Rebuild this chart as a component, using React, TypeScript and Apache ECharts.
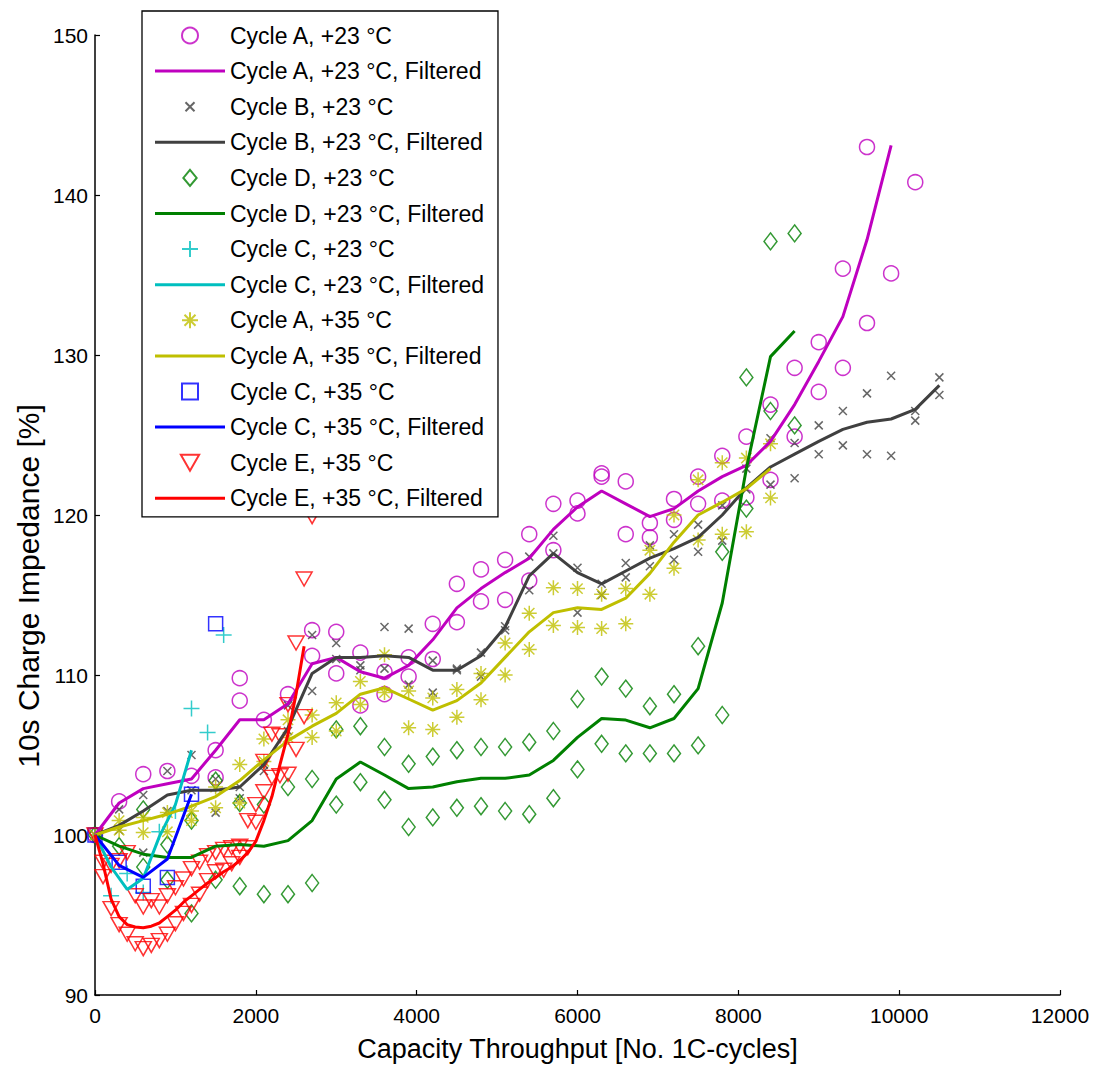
import React, { useEffect, useRef } from "react";
import * as echarts from "echarts";

// ---------- data ----------
const cyc300To9900 = [0,300,600,900,1200,1500,1800,2100,2400,2700,3000,3300,3600,3900,4200,4500,4800,5100,5400,5700,6000,6300,6600,6900,7200,7500,7800,8100,8400,8700,9000,9300,9600,9900];
const cyc300To10500 = [0,300,600,900,1200,1500,1800,2100,2400,2700,3000,3300,3600,3900,4200,4500,4800,5100,5400,5700,6000,6300,6600,6900,7200,7500,7800,8100,8400,8700,9000,9300,9600,9900,10200,10500];
const cyc300To8700 = [0,300,600,900,1200,1500,1800,2100,2400,2700,3000,3300,3600,3900,4200,4500,4800,5100,5400,5700,6000,6300,6600,6900,7200,7500,7800,8100,8400,8700];
const cyc300To8400 = [0,300,600,900,1200,1500,1800,2100,2400,2700,3000,3300,3600,3900,4200,4500,4800,5100,5400,5700,6000,6300,6600,6900,7200,7500,7800,8100,8400];
const cycC23Line = [0,200,400,600,800,1000,1200];
const cycC35Line = [0,300,600,900,1200];
const cycE35Line = [0,100,200,300,400,500,600,700,800,900,1000,1100,1200,1300,1400,1500,1600,1700,1800,1900,2000,2100,2200,2300,2400,2500,2600];

const cycleA23Points = [[0,100],[300,102.1],[600,103.8],[900,104.0],[1200,103.7],[1500,105.3],[1500,103.6],[1800,109.8],[1800,108.4],[2100,107.2],[2400,108.8],[2700,112.8],[2700,111.2],[3000,112.7],[3000,110.1],[3300,111.4],[3300,108.1],[3600,110.2],[3600,108.8],[3900,111.1],[3900,109.9],[4200,113.2],[4200,111.0],[4500,115.7],[4500,113.3],[4800,116.6],[4800,114.6],[5100,117.2],[5100,114.7],[5400,118.8],[5400,115.9],[5700,120.7],[5700,117.8],[6000,120.9],[6000,120.1],[6300,122.6],[6300,122.4],[6600,122.1],[6600,118.8],[6900,119.5],[6900,118.6],[7200,121.0],[7200,119.7],[7500,122.4],[7500,120.7],[7800,123.7],[7800,120.9],[8100,124.9],[8100,121.1],[8400,126.9],[8400,122.2],[8700,129.2],[8700,124.9],[9000,130.8],[9000,127.7],[9300,135.4],[9300,129.2],[9600,143.0],[9600,132.0],[9900,135.1],[10200,140.8]];
const cycleA23Filtered = [100,102.0,102.9,103.2,103.5,105.3,107.2,107.2,108.2,110.7,111.1,110.2,109.8,110.6,112.2,114.2,115.4,116.4,117.3,119.1,120.5,121.5,120.7,119.9,120.4,121.5,122.4,123.1,124.6,126.9,129.6,132.4,137.2,143.1];

const cycleB23Points = [[0,100],[300,101.6],[300,100.3],[600,102.5],[600,98.9],[900,104.0],[900,101.5],[1200,105.0],[1200,102.8],[1500,103.5],[1500,101.4],[1800,103.0],[1800,102.3],[2100,104.4],[2100,104.0],[2400,108.1],[2400,106.5],[2700,112.5],[2700,109.0],[3000,112.0],[3000,111.0],[3300,110.6],[3300,110.3],[3600,113.0],[3600,110.4],[3900,112.9],[3900,109.4],[4200,110.9],[4200,108.9],[4500,110.4],[4500,110.3],[4800,111.4],[4800,109.9],[5100,113.05],[5100,112.8],[5400,117.4],[5400,115.3],[5700,118.7],[5700,117.6],[6000,116.7],[6000,113.9],[6300,115.7],[6300,115.0],[6600,117.0],[6600,116.1],[6900,118.1],[6900,116.8],[7200,118.8],[7200,117.2],[7500,119.4],[7500,117.7],[7800,120.6],[7800,118.4],[8100,122.9],[8100,121.6],[8400,124.8],[8400,121.9],[8700,124.5],[8700,122.3],[9000,125.6],[9000,123.8],[9300,126.5],[9300,124.35],[9600,127.6],[9600,123.8],[9900,128.7],[9900,123.7],[10200,126.5],[10200,125.9],[10500,128.6],[10500,127.5]];
const cycleB23Filtered = [100,100.6,101.5,102.5,102.8,102.8,103.0,104.4,106.7,110.1,111.1,111.1,111.2,111.1,110.3,110.3,111.2,113.0,116.2,117.6,116.4,115.7,116.5,117.3,117.9,118.6,120.0,121.7,123.0,123.8,124.6,125.35,125.8,126.0,126.6,128.1];

const cycleD23Points = [[0,100],[300,99.3],[600,98.0],[600,101.6],[900,99.4],[900,97.2],[1200,100.9],[1200,95.1],[1500,103.4],[1500,97.2],[1800,102.0],[1800,96.8],[2100,101.9],[2100,96.3],[2400,103.0],[2400,96.3],[2700,103.5],[2700,97.0],[3000,106.6],[3000,101.9],[3300,106.8],[3300,103.3],[3600,105.5],[3600,102.2],[3900,104.45],[3900,100.5],[4200,104.9],[4200,101.1],[4500,105.3],[4500,101.7],[4800,105.5],[4800,101.8],[5100,105.5],[5100,101.5],[5400,105.8],[5400,101.3],[5700,106.5],[5700,102.3],[6000,108.5],[6000,104.1],[6300,109.9],[6300,105.7],[6600,109.15],[6600,105.1],[6900,108.05],[6900,105.1],[7200,108.8],[7200,105.1],[7500,111.8],[7500,105.6],[7800,117.7],[7800,107.5],[8100,128.6],[8100,120.4],[8400,137.1],[8400,126.5],[8700,137.6],[8700,125.6]];
const cycleD23Filtered = [100,99.3,98.8,98.6,98.6,99.3,99.4,99.3,99.65,100.9,103.5,104.56,103.75,102.9,103.0,103.33,103.54,103.54,103.75,104.66,106.1,107.28,107.18,106.7,107.28,109.15,114.5,122.9,129.9,131.5];

const cycleC23Points = [[0,100],[200,96.2],[400,97.6],[600,96.4],[800,100.2],[1000,101.5],[1200,107.9],[1400,106.4],[1600,112.5]];
const cycleC23Filtered = [100,98.0,96.6,97.3,99.9,101.9,105.3];

const cycleA35Points = [[0,100],[300,100.9],[300,100.3],[600,101.1],[600,100.15],[900,101.4],[900,100.2],[1200,100.9],[1200,101.5],[1500,103.0],[1500,101.7],[1800,104.4],[1800,102.0],[2100,106.0],[2100,104.6],[2400,107.2],[2400,106.1],[2700,107.5],[2700,106.1],[3000,108.26],[3000,106.5],[3300,109.6],[3300,108.15],[3600,111.27],[3600,108.9],[3900,109.0],[3900,106.7],[4200,108.57],[4200,106.6],[4500,109.1],[4500,107.36],[4800,110.1],[4800,108.46],[5100,112.0],[5100,110.0],[5400,113.86],[5400,111.6],[5700,115.46],[5700,113.1],[6000,115.4],[6000,112.97],[6300,115.05],[6300,112.9],[6600,115.4],[6600,113.2],[6900,117.8],[6900,115.05],[7200,120.0],[7200,116.67],[7500,122.2],[7500,118.43],[7800,123.27],[7800,118.8],[8100,123.56],[8100,118.95],[8400,124.45],[8400,121.07]];
const cycleA35Filtered = [100,100.5,100.9,101.3,101.8,102.4,103.4,104.7,105.9,106.8,107.6,108.8,109.2,108.5,107.8,108.4,109.5,111.1,112.7,113.9,114.2,114.1,114.8,116.35,118.3,120.0,120.8,121.65,122.9];

const cycleC35Points = [[0,100],[300,98.3],[600,96.8],[900,97.35],[1200,102.55],[1500,113.2]];
const cycleC35Filtered = [100,98.1,97.35,98.5,102.55];

const cycleE35Points = [[0,100],[100,97.4],[200,95.4],[300,94.4],[400,93.8],[500,93.2],[600,92.9],[700,93.1],[800,93.4],[900,93.8],[1000,94.45],[1100,95.1],[1200,95.6],[1300,96.3],[1400,97.15],[1500,97.7],[1600,97.8],[1700,98.2],[1800,98.6],[1900,99.2],[2000,100.8],[2100,102.7],[2200,103.6],[2300,103.7],[2400,103.8],[2500,105.35],[2600,107.4],
  [100,98.3],[200,98.1],[300,98.4],[400,98.9],[500,96.2],[600,95.5],[700,95.9],[800,95.5],[900,96.2],[1000,96.7],[1100,97.25],[1200,97.9],[1300,98.3],[1400,98.7],[1500,98.9],[1600,99.1],[1700,99.2],[1800,99.3],[1900,100.9],[2000,101.9],[2100,104.6],[2200,106.3],[2300,106.2],[2400,108.15],[2500,112.0],[2600,116.0],[2700,119.9]];
const cycleE35Filtered = [100,98.2,96.0,94.9,94.4,94.25,94.2,94.3,94.5,94.9,95.3,95.8,96.2,96.6,97.0,97.35,97.7,98.0,98.4,98.9,99.6,100.9,102.4,104.4,106.3,108.8,111.8];

const xAxisTitle = "Capacity Throughput [No. 1C-cycles]";
const yAxisTitle = "10s Charge Impedance [%]";

// ---------- styles ----------
const C_MAG = "#BF00BF";
const C_GRAY = "#404040";
const C_GREEN = "#008000";
const C_CYAN = "#00BFBF";
const C_OLIVE = "#BFBF00";
const C_BLUE = "#0000FF";
const C_RED = "#FF0000";
const FONT = "Liberation Sans, Arial, Helvetica, sans-serif";

const SYM_X = "path://M0,0L10,10M10,0L0,10";
const SYM_PLUS = "path://M8,0L8,16M0,8L16,8";
const SYM_STAR = "path://M8,0L8,16M0,8L16,8M2.5,2.5L13.5,13.5M13.5,2.5L2.5,13.5";
const SYM_DIAMOND = "path://M7.5,0L15,9L7.5,18L0,9Z";
const SYM_TRI_DOWN = "path://M0,0L16,0L8,14Z";
const LEG_X = "path://M0,0M16,16M3.5,3.5L12.5,12.5M12.5,3.5L3.5,12.5";
const LEG_SQUARE = "path://M0,0L14,0L14,14L0,14Z";
const LEG_CIRCLE = "circle";
const LEG_LINE = "path://M0,0L70,0L70,3L0,3Z";

const zip = (xs: number[], ys: number[]) => xs.map((x, i) => [x, ys[i]]);

function scatter(name: string, data: number[][], symbol: string, size: any, color: string) {
  return {
    name,
    type: "scatter",
    data,
    symbol,
    symbolSize: size,
    itemStyle: { color: "rgba(0,0,0,0)", borderColor: color, borderWidth: 1.5 },
    emphasis: { disabled: true },
  };
}
function line(name: string, xs: number[], ys: number[], color: string) {
  return {
    name,
    type: "line",
    data: zip(xs, ys),
    symbol: "none",
    showSymbol: false,
    lineStyle: { color, width: 3 },
    itemStyle: { color },
    emphasis: { disabled: true },
  };
}

export default function App() {
  const ref = useRef<HTMLDivElement>(null);
  useEffect(() => {
    if (!ref.current) return;
    const chart = echarts.init(ref.current, undefined, { renderer: "svg" });
    const series = [
      scatter("Cycle A, +23 \u00B0C", cycleA23Points, "circle", 15, C_MAG),
      line("Cycle A, +23 \u00B0C, Filtered", cyc300To9900, cycleA23Filtered, C_MAG),
      scatter("Cycle B, +23 \u00B0C", cycleB23Points, SYM_X, 8, C_GRAY),
      line("Cycle B, +23 \u00B0C, Filtered", cyc300To10500, cycleB23Filtered, C_GRAY),
      scatter("Cycle D, +23 \u00B0C", cycleD23Points, SYM_DIAMOND, [13, 17], C_GREEN),
      line("Cycle D, +23 \u00B0C, Filtered", cyc300To8700, cycleD23Filtered, C_GREEN),
      scatter("Cycle C, +23 \u00B0C", cycleC23Points, SYM_PLUS, 16, C_CYAN),
      line("Cycle C, +23 \u00B0C, Filtered", cycC23Line, cycleC23Filtered, C_CYAN),
      scatter("Cycle A, +35 \u00B0C", cycleA35Points, SYM_STAR, 15, C_OLIVE),
      line("Cycle A, +35 \u00B0C, Filtered", cyc300To8400, cycleA35Filtered, C_OLIVE),
      scatter("Cycle C, +35 \u00B0C", cycleC35Points, "rect", 14, C_BLUE),
      line("Cycle C, +35 \u00B0C, Filtered", cycC35Line, cycleC35Filtered, C_BLUE),
      scatter("Cycle E, +35 \u00B0C", cycleE35Points, SYM_TRI_DOWN, [16, 14], C_RED),
      line("Cycle E, +35 \u00B0C, Filtered", cycE35Line, cycleE35Filtered, C_RED),
    ];
    const legendIcons: Record<number, string> = {
      0: LEG_CIRCLE, 2: LEG_X, 4: SYM_DIAMOND, 6: SYM_PLUS, 8: SYM_STAR, 10: LEG_SQUARE, 12: SYM_TRI_DOWN,
    };
    const legendData = series.map((s: any, i) => ({ name: s.name, icon: legendIcons[i] ?? LEG_LINE }));

    const axisCommon = {
      type: "value",
      axisLine: { show: true, onZero: false, lineStyle: { color: "#000", width: 1.5 } },
      axisTick: { show: true, inside: true, length: 5, lineStyle: { color: "#000", width: 1.2 } },
      axisLabel: { color: "#000", fontSize: 21, fontFamily: FONT, formatter: (v: number) => String(v) },
      splitLine: { show: false },
      nameLocation: "middle",
      nameTextStyle: { color: "#000", fontSize: 27, fontFamily: FONT },
    };
    chart.setOption({
      animation: false,
      backgroundColor: "#fff",
      grid: { left: 95, right: 35, top: 35, bottom: 69, containLabel: false },
      xAxis: {
        ...axisCommon,
        min: 0,
        max: 12000,
        interval: 2000,
        name: xAxisTitle,
        nameGap: 40,
        axisLabel: { ...axisCommon.axisLabel, margin: 10 },
      },
      yAxis: {
        ...axisCommon,
        min: 90,
        max: 150,
        interval: 10,
        axisLabel: { ...axisCommon.axisLabel, margin: 7 },
      },
      graphic: [
        {
          type: "text",
          x: 28,
          y: 586,
          rotation: Math.PI / 2,
          style: {
            text: yAxisTitle,
            fill: "#000",
            font: `30px ${FONT}`,
            textAlign: "center",
            textVerticalAlign: "middle",
          },
        },
      ],
      legend: {
        orient: "vertical",
        left: 142,
        top: 11,
        padding: [13, 14, 7, 13],
        itemWidth: 70,
        itemHeight: 16,
        itemGap: 12.6,
        backgroundColor: "#fff",
        borderColor: "#000",
        borderWidth: 1.3,
        borderRadius: 0,
        textStyle: { color: "#000", fontSize: 23, fontFamily: FONT, lineHeight: 22 },
        selectedMode: false,
        data: legendData,
      },
      series,
    });
    return () => chart.dispose();
  }, []);
  return <div ref={ref} style={{ position: "absolute", left: 0, top: 0, width: 1095, height: 1067 }} />;
}
